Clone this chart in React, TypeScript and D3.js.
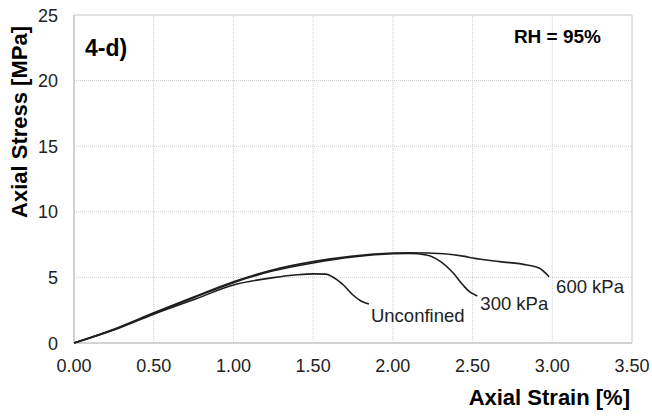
import React from "react";
import * as d3 from "d3";

// strain [%] / stress [MPa]
const unconfinedStrain = [0, 0.25, 0.5, 0.75, 1.0, 1.25, 1.4, 1.5, 1.58, 1.62, 1.69, 1.75, 1.8, 1.85];
const unconfinedStress = [0, 1.0, 2.2, 3.3, 4.42, 4.98, 5.2, 5.27, 5.25, 5.05, 4.42, 3.66, 3.2, 2.97];

const kpa300Strain = [0, 0.25, 0.5, 0.75, 1.0, 1.25, 1.5, 1.75, 2.0, 2.1, 2.21, 2.3, 2.38, 2.44, 2.48, 2.53];
const kpa300Stress = [0, 1.02, 2.25, 3.45, 4.6, 5.5, 6.1, 6.55, 6.8, 6.82, 6.71, 6.2, 5.31, 4.42, 3.91, 3.58];

const kpa600Strain = [0, 0.25, 0.5, 0.75, 1.0, 1.25, 1.5, 1.75, 2.0, 2.11, 2.32, 2.45, 2.5, 2.67, 2.84, 2.92, 2.98];
const kpa600Stress = [0, 1.05, 2.3, 3.5, 4.67, 5.58, 6.2, 6.62, 6.85, 6.88, 6.8, 6.6, 6.48, 6.2, 5.95, 5.7, 5.05];

const xTicks = [0, 0.5, 1.0, 1.5, 2.0, 2.5, 3.0, 3.5];
const yTicks = [0, 5, 10, 15, 20, 25];

const curves = [
  { name: "Unconfined", xs: unconfinedStrain, ys: unconfinedStress, dx: 2, dy: 18 },
  { name: "300 kPa", xs: kpa300Strain, ys: kpa300Stress, dx: 3, dy: 14 },
  { name: "600 kPa", xs: kpa600Strain, ys: kpa600Stress, dx: 7, dy: 16 },
];

const font = "'Liberation Sans', Arial, sans-serif";

export default function App() {
  const width = 652;
  const height = 416;
  const m = { left: 74, right: 20, top: 15, bottom: 73 };

  const x = d3.scaleLinear().domain([0, 3.5]).range([m.left, width - m.right]);
  const y = d3.scaleLinear().domain([0, 25]).range([height - m.bottom, m.top]);

  const line = d3
    .line<[number, number]>()
    .x((d) => x(d[0]))
    .y((d) => y(d[1]))
    .curve(d3.curveMonotoneX);

  return (
    <svg
      width={width}
      height={height}
      style={{ position: "absolute", left: 0, top: 0, background: "#fff" }}
      fontFamily={font}
    >
      {/* grid */}
      {xTicks.slice(1, -1).map((t) => (
        <line key={"gx" + t} x1={x(t)} x2={x(t)} y1={y(0)} y2={y(25)} stroke="#cfcfcf" strokeDasharray="1,1" />
      ))}
      {yTicks.slice(1, -1).map((t) => (
        <line key={"gy" + t} x1={x(0)} x2={x(3.5)} y1={y(t)} y2={y(t)} stroke="#cfcfcf" strokeDasharray="1,1" />
      ))}
      {/* frame */}
      <line x1={x(0)} x2={x(3.5)} y1={y(25)} y2={y(25)} stroke="#c4c4c4" />
      <line x1={x(3.5)} x2={x(3.5)} y1={y(25)} y2={y(0)} stroke="#c4c4c4" />
      <line x1={x(0)} x2={x(0)} y1={y(25)} y2={y(0)} stroke="#c4c4c4" strokeWidth={1.5} />
      <line x1={x(0)} x2={x(3.5)} y1={y(0)} y2={y(0)} stroke="#c4c4c4" strokeWidth={1.5} />

      {/* ticks */}
      {xTicks.map((t) => (
        <text key={"tx" + t} x={x(t)} y={y(0) + 29} textAnchor="middle" fontSize={18} fill="#222">
          {t.toFixed(2)}
        </text>
      ))}
      {yTicks.map((t) => (
        <text key={"ty" + t} x={x(0) - 16} y={y(t) + 6.5} textAnchor="end" fontSize={18} fill="#222">
          {t}
        </text>
      ))}

      {/* curves */}
      {curves.map((c) => {
        const pts = c.xs.map((v, i) => [v, c.ys[i]] as [number, number]);
        const last = pts[pts.length - 1];
        return (
          <g key={c.name}>
            <path d={line(pts) || ""} fill="none" stroke="#1e1e1e" strokeWidth={1.6} />
            <text x={x(last[0]) + c.dx} y={y(last[1]) + c.dy} fontSize={18.5} fill="#222">
              {c.name}
            </text>
          </g>
        );
      })}

      {/* titles */}
      <text x={630} y={405} textAnchor="end" fontSize={22} fontWeight="bold" fill="#000">
        Axial Strain [%]
      </text>
      <text
        transform="translate(27,122) rotate(-90)"
        textAnchor="middle"
        fontSize={22}
        fontWeight="bold"
        fill="#000"
      >
        Axial Stress [MPa]
      </text>
      <text x={85} y={56} fontSize={23} fontWeight="bold" fill="#000">
        4-d)
      </text>
      <text x={601} y={43} textAnchor="end" fontSize={19} fontWeight="bold" fill="#000">
        RH = 95%
      </text>
    </svg>
  );
}
